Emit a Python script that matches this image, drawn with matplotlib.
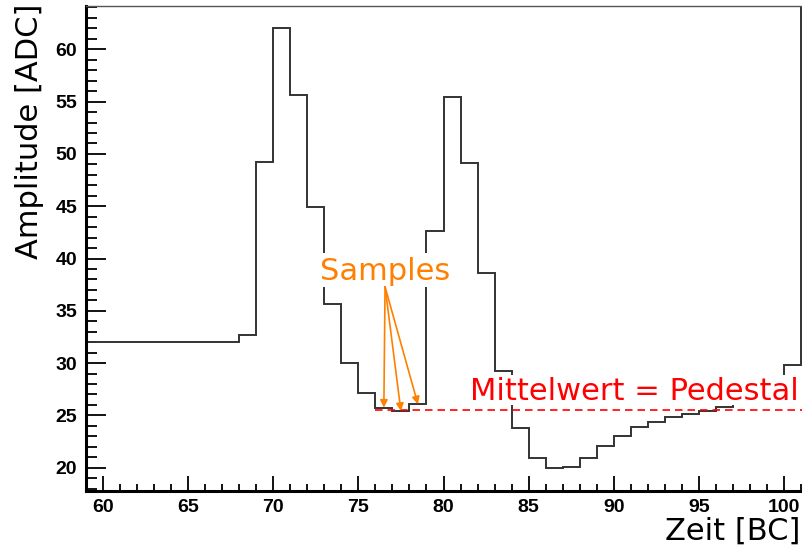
import matplotlib
matplotlib.use("Agg")
import matplotlib.pyplot as plt
from matplotlib.patches import Rectangle
from matplotlib.ticker import MultipleLocator

# Bin edges (integer bunch crossings) and ADC content per bin
bin_edges = list(range(59, 103))
adc_values = [
    32.0, 32.0, 32.0, 32.0, 32.0, 32.0, 32.0, 32.0, 32.0,   # 59-67
    32.7, 49.25, 62.07, 55.66, 44.95, 35.62, 30.04, 27.11,  # 68-75
    25.74, 25.42, 26.06,                                    # 76-78
    42.63, 55.47, 49.16, 38.58, 29.2, 23.8, 20.96, 20.0,    # 79-86
    20.1, 20.96, 22.05, 23.03, 23.89, 24.37, 24.88, 25.13,  # 87-94
    25.42, 25.77, 26.2, 26.6, 27.2, 29.82, 66.0,            # 95-101
]
sample_bins = [76, 77, 78]
pedestal = 25.52

x_ticks_major = 5
y_ticks_major = 5

fig = plt.figure(figsize=(8.03, 5.51), dpi=100)
W, H = 803, 551
ax_left, ax_right = 85.66, 802.2
ax_top, ax_bottom = 6.0, 490.5
ax = fig.add_axes([ax_left / W, 1 - ax_bottom / H,
                   (ax_right - ax_left) / W, (ax_bottom - ax_top) / H])

x_lo = 59.0
x_hi = x_lo + (ax_right - ax_left) / 17.04
y_lo, y_hi = 17.82, 64.14

# histogram outline
ax.stairs(adc_values, bin_edges, baseline=None, color="#333333",
          linewidth=1.4, zorder=2)

# pedestal line from the first sample onwards
ax.plot([sample_bins[0], x_hi + 1], [pedestal, pedestal], color="red",
        linestyle=(0, (4.5, 3)), linewidth=1.2, zorder=3)

ax.set_xlim(x_lo, x_hi)
ax.set_ylim(y_lo, y_hi)

# white label backgrounds (drawn over the histogram)
ax.add_patch(Rectangle((72.75, 37.25), 7.7, 3.25, facecolor="white",
                       edgecolor="none", zorder=4))
ax.add_patch(Rectangle((81.3, 25.95), 20.0, 2.95, facecolor="white",
                       edgecolor="none", zorder=4))

ax.text(76.6, 37.95, "Samples", color="#ff8000", fontsize=22,
        family="DejaVu Sans", ha="center", va="baseline", zorder=5)
ax.text(81.57, 26.44, "Mittelwert = Pedestal", color="red", fontsize=22,
        family="DejaVu Sans", ha="left", va="baseline", zorder=5)

# arrows from the label to each sample
arrow_start = (76.57, 37.3)
for b in sample_bins:
    v = adc_values[bin_edges.index(b)]
    ax.annotate("", xy=(b + 0.5, v), xytext=arrow_start,
                arrowprops=dict(arrowstyle="-|>", color="#ff8000", lw=1.2,
                                mutation_scale=11, shrinkA=0, shrinkB=0),
                zorder=6)

# spines
ax.spines["right"].set_visible(False)
ax.spines["top"].set_color("#555555")
ax.spines["top"].set_linewidth(1.0)
ax.spines["left"].set_linewidth(2.2)
ax.spines["bottom"].set_linewidth(2.2)
ax.spines["left"].set_color("black")
ax.spines["bottom"].set_color("black")

ax.xaxis.set_major_locator(MultipleLocator(x_ticks_major))
ax.xaxis.set_minor_locator(MultipleLocator(1))
ax.yaxis.set_major_locator(MultipleLocator(y_ticks_major))
ax.yaxis.set_minor_locator(MultipleLocator(1))

ax.tick_params(axis="x", which="major", direction="in", length=10.8,
               width=1.3, top=False, pad=6)
ax.tick_params(axis="x", which="minor", direction="in", length=5,
               width=1.3, top=False)
ax.tick_params(axis="y", which="major", direction="in", length=14.4,
               width=1.3, right=False, pad=6)
ax.tick_params(axis="y", which="minor", direction="in", length=8,
               width=1.3, right=False)

for lab in ax.get_xticklabels() + ax.get_yticklabels():
    lab.set_family("Liberation Sans")
    lab.set_fontweight("bold")
    lab.set_fontsize(14)

fig.text(30 / W, 1 - 4 / H, "Amplitude [ADC]", rotation=90, fontsize=22,
         family="DejaVu Sans", ha="center", va="top")
fig.text(800 / W, 1 - 531 / H, "Zeit [BC]", fontsize=22,
         family="DejaVu Sans", ha="right", va="center")

fig.savefig("out.png", dpi=100)
